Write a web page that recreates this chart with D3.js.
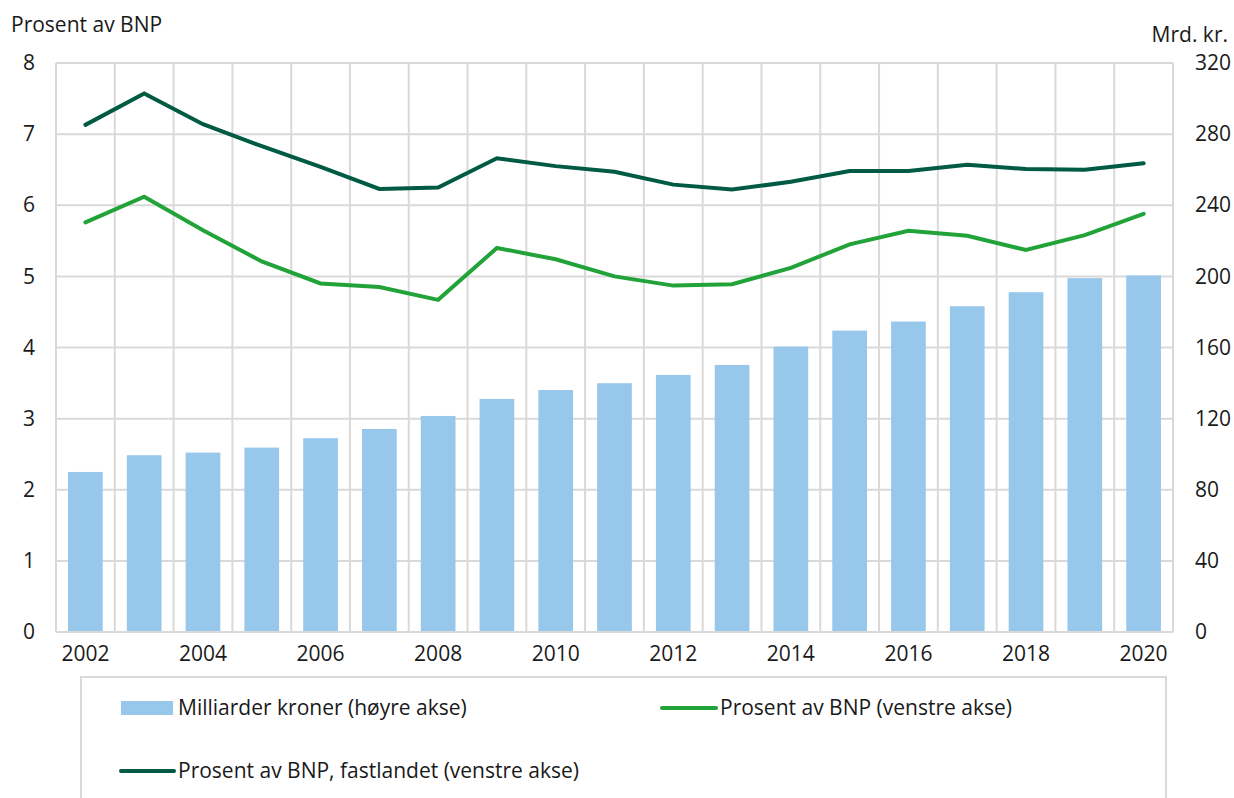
<!DOCTYPE html>
<html>
<head>
<meta charset="utf-8">
<script src="https://cdn.jsdelivr.net/npm/d3@7"></script>
<style>
  body { margin: 0; background: #fff; }
  text { font-family: "Open Sans", "Noto Sans", sans-serif; fill: #1a1a1a; }
</style>
</head>
<body>
<script>
var width = 1234,
    height = 798;

// data
var years = [2002, 2003, 2004, 2005, 2006, 2007, 2008, 2009, 2010, 2011,
             2012, 2013, 2014, 2015, 2016, 2017, 2018, 2019, 2020];
var mrdKroner = [90.0, 99.4, 100.9, 103.7, 109.0, 114.2, 121.5, 131.1, 136.1, 139.9,
                 144.6, 150.2, 160.5, 169.5, 174.6, 183.2, 191.1, 199.0, 200.5];
var prosentBnp = [5.76, 6.12, 5.65, 5.21, 4.90, 4.85, 4.67, 5.40, 5.24, 5.00,
                  4.87, 4.89, 5.12, 5.45, 5.64, 5.57, 5.37, 5.58, 5.88];
var prosentFastland = [7.13, 7.57, 7.14, 6.83, 6.54, 6.23, 6.25, 6.66, 6.55, 6.47,
                       6.29, 6.22, 6.33, 6.48, 6.48, 6.57, 6.51, 6.50, 6.59];
var leftTicks = [0, 1, 2, 3, 4, 5, 6, 7, 8];
var rightTicks = [0, 40, 80, 120, 160, 200, 240, 280, 320];
var yearLabels = [2002, 2004, 2006, 2008, 2010, 2012, 2014, 2016, 2018, 2020];
var legendLabels = ["Milliarder kroner (høyre akse)", "Prosent av BNP (venstre akse)",
                    "Prosent av BNP, fastlandet (venstre akse)"];
// end data

var colors = { bar: "#97c7eb", green: "#22a339", dark: "#005a44", grid: "#d9d9d9" };
var fontSize = 21;

var plot = { left: 56, right: 1173, top: 63, bottom: 632 };

var x = d3.scaleBand().domain(years).range([plot.left, plot.right]).padding(0);
var yLeft = d3.scaleLinear().domain([0, 8]).range([plot.bottom, plot.top]);
var yRight = d3.scaleLinear().domain([0, 320]).range([plot.bottom, plot.top]);

var svg = d3.select("body").append("svg")
    .attr("width", width)
    .attr("height", height);

// grid
var gGrid = svg.append("g");
gGrid.selectAll(".hgrid")
    .data(leftTicks)
    .enter().append("line")
    .attr("x1", plot.left).attr("x2", plot.right)
    .attr("y1", function(d) { return yLeft(d); })
    .attr("y2", function(d) { return yLeft(d); })
    .attr("stroke", colors.grid)
    .attr("stroke-width", 2);

var boundaries = years.map(function(d) { return x(d); }).concat([plot.right]);
gGrid.selectAll(".vgrid")
    .data(boundaries)
    .enter().append("line")
    .attr("x1", function(d) { return d; })
    .attr("x2", function(d) { return d; })
    .attr("y1", plot.top).attr("y2", plot.bottom)
    .attr("stroke", colors.grid)
    .attr("stroke-width", 2);
// end grid

// bars
var barWidth = x.bandwidth() * 0.59;
svg.append("g").selectAll("rect")
    .data(years)
    .enter().append("rect")
    .attr("x", function(d) { return x(d) + (x.bandwidth() - barWidth) / 2; })
    .attr("width", barWidth)
    .attr("y", function(d, i) { return yRight(mrdKroner[i]); })
    .attr("height", function(d, i) { return yRight(0) - yRight(mrdKroner[i]) - 1; })
    .attr("fill", colors.bar);

// lines
var line = function(values) {
    return d3.line()
        .x(function(d, i) { return x(years[i]) + x.bandwidth() / 2; })
        .y(function(d) { return yLeft(d); })(values);
};

svg.append("path")
    .attr("d", line(prosentBnp))
    .attr("fill", "none")
    .attr("stroke", colors.green)
    .attr("stroke-width", 4)
    .attr("stroke-linecap", "round");

svg.append("path")
    .attr("d", line(prosentFastland))
    .attr("fill", "none")
    .attr("stroke", colors.dark)
    .attr("stroke-width", 4)
    .attr("stroke-linecap", "round");

// axes
var leftAxis = svg.append("g")
    .attr("transform", "translate(" + 35 + ",0)")
    .call(d3.axisLeft(yLeft).tickValues(leftTicks).tickSize(0).tickPadding(0));
var rightAxis = svg.append("g")
    .attr("transform", "translate(" + 1195 + ",0)")
    .call(d3.axisRight(yRight).tickValues(rightTicks).tickSize(0).tickPadding(0));
var bottomAxis = svg.append("g")
    .attr("transform", "translate(0," + 646 + ")")
    .call(d3.axisBottom(x).tickValues(yearLabels).tickSize(0).tickPadding(0));

[leftAxis, rightAxis, bottomAxis].forEach(function(a) {
    a.select(".domain").remove();
    a.selectAll("text")
        .attr("font-size", fontSize)
        .attr("font-family", "'Open Sans', sans-serif")
        .attr("fill", "#1a1a1a");
});
bottomAxis.selectAll("text").attr("dy", "0.71em");

svg.append("text")
    .attr("x", 11).attr("y", 32)
    .attr("font-size", fontSize)
    .text("Prosent av BNP");

svg.append("text")
    .attr("x", 1228).attr("y", 42)
    .attr("text-anchor", "end")
    .attr("font-size", fontSize)
    .text("Mrd. kr.");

// legend
var legend = svg.append("g");
legend.append("rect")
    .attr("x", 81).attr("y", 677)
    .attr("width", 1085).attr("height", 140)
    .attr("fill", "none")
    .attr("stroke", colors.grid)
    .attr("stroke-width", 2);

legend.append("rect")
    .attr("x", 121).attr("y", 701)
    .attr("width", 52).attr("height", 14)
    .attr("fill", colors.bar);
legend.append("text")
    .attr("x", 178).attr("y", 715)
    .attr("font-size", fontSize)
    .text(legendLabels[0]);

legend.append("line")
    .attr("x1", 662).attr("x2", 716)
    .attr("y1", 708).attr("y2", 708)
    .attr("stroke", colors.green)
    .attr("stroke-width", 4)
    .attr("stroke-linecap", "round");
legend.append("text")
    .attr("x", 720).attr("y", 715)
    .attr("font-size", fontSize)
    .text(legendLabels[1]);

legend.append("line")
    .attr("x1", 121).attr("x2", 174)
    .attr("y1", 771).attr("y2", 771)
    .attr("stroke", colors.dark)
    .attr("stroke-width", 4)
    .attr("stroke-linecap", "round");
legend.append("text")
    .attr("x", 178).attr("y", 778)
    .attr("font-size", fontSize)
    .text(legendLabels[2]);
// end legend
</script>
</body>
</html>
